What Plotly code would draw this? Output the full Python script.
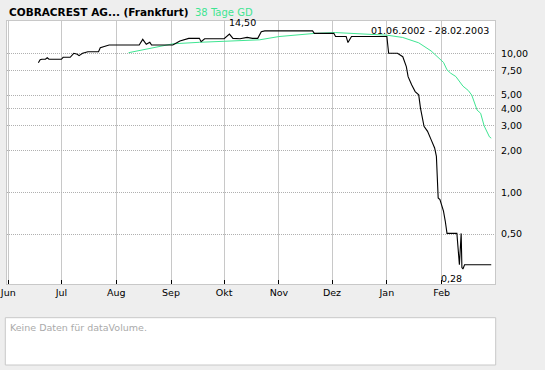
import math
import plotly.graph_objects as go

# ---- data -------------------------------------------------------------
price_dates = [
    "2002-06-18", "2002-06-19", "2002-06-20", "2002-06-22", "2002-06-23", "2002-06-24",
    "2002-07-01", "2002-07-02", "2002-07-06", "2002-07-08", "2002-07-10", "2002-07-11",
    "2002-07-13", "2002-07-16", "2002-07-22", "2002-07-23", "2002-07-28", "2002-08-14",
    "2002-08-16", "2002-08-18", "2002-08-20", "2002-08-21", "2002-09-02", "2002-09-06",
    "2002-09-11", "2002-09-17", "2002-09-18", "2002-09-20", "2002-10-01", "2002-10-04",
    "2002-10-06", "2002-10-10", "2002-10-14", "2002-10-17", "2002-10-20", "2002-10-22",
    "2002-10-24", "2002-11-20", "2002-11-21", "2002-12-02", "2002-12-03", "2002-12-09",
    "2002-12-10", "2002-12-12", "2003-01-01", "2003-01-02", "2003-01-07", "2003-01-10",
    "2003-01-12", "2003-01-13", "2003-01-15", "2003-01-17", "2003-01-19", "2003-01-20",
    "2003-01-22", "2003-01-24", "2003-01-26", "2003-01-28", "2003-01-29", "2003-01-30",
    "2003-01-31", "2003-02-02", "2003-02-03", "2003-02-04", "2003-02-09 14:00",
    "2003-02-10 17:00", "2003-02-11 00:00", "2003-02-12 00:00", "2003-02-12 10:00",
    "2003-02-13 00:00", "2003-02-13 22:00", "2003-03-01",
]
price_values = [
    8.56, 9.00, 9.06, 9.06, 9.29, 9.06,
    9.06, 9.36, 9.36, 10.00, 9.83, 9.61,
    10.00, 10.27, 10.27, 10.97, 11.47, 11.47,
    12.60, 11.60, 11.99, 11.47, 11.47, 12.25,
    12.81, 12.81, 12.11, 12.72, 12.72, 13.76,
    12.81, 12.72, 13.02, 12.81, 12.81, 14.29,
    14.50, 14.50, 13.92, 13.92, 13.20, 13.20,
    11.95, 13.20, 13.20, 10.00, 10.00, 9.45,
    8.01, 6.79, 5.93, 5.30, 5.02, 4.03,
    2.98, 2.74, 2.39, 2.08, 1.81, 0.91,
    0.886, 0.73, 0.62, 0.505, 0.505,
    0.32, 0.30, 0.505, 0.287,
    0.28, 0.30, 0.30,
]

gd_dates = [
    "2002-08-08", "2002-09-02", "2002-09-17", "2002-10-21", "2002-11-01", "2002-11-21",
    "2002-12-03", "2002-12-22", "2003-01-01", "2003-01-10", "2003-01-19", "2003-01-26",
    "2003-02-02", "2003-02-04", "2003-02-06", "2003-02-09", "2003-02-13", "2003-02-16",
    "2003-02-18", "2003-02-21", "2003-02-23", "2003-02-25", "2003-02-28", "2003-03-01",
]
gd_values = [
    10.10, 11.70, 12.00, 12.50, 13.20, 13.90,
    14.10, 13.80, 13.50, 13.00, 11.90, 10.40,
    8.60, 7.60, 7.20, 6.80, 5.80, 5.40,
    5.00, 3.90, 3.70, 3.00, 2.50, 2.45,
]

month_ticks = ["2002-06-01", "2002-07-01", "2002-08-01", "2002-09-01", "2002-10-01",
               "2002-11-01", "2002-12-01", "2003-01-01", "2003-02-01"]
month_labels = ["Jun", "Jul", "Aug", "Sep", "Okt", "Nov", "Dez", "Jan", "Feb"]

y_ticks = [10, 7.5, 5, 4, 3, 2, 1, 0.5]
y_labels = ["10,00", "7,50", "5,00", "4,00", "3,00", "2,00", "1,00", "0,50"]

title_text = "COBRACREST AG... (Frankfurt)"
gd_text = "38 Tage GD"
period_text = "01.06.2002 - 28.02.2003"
volume_text = "Keine Daten für dataVolume."

# ---- style -------------------------------------------------------------
GREEN = "#3fe592"
FONT = "DejaVu Sans"

fig = go.Figure()
fig.add_trace(go.Scatter(x=gd_dates, y=gd_values, mode="lines",
                         line=dict(color=GREEN, width=1), hoverinfo="skip"))
fig.add_trace(go.Scatter(x=price_dates, y=price_values, mode="lines",
                         line=dict(color="black", width=1.1)))

W, H = 545, 370
L, R, T, B = 7, 50, 21, 86
pw, ph = W - L - R, H - T - B


def px(x):
    return (x - L) / pw


def py(y):
    return (H - B - y) / ph


fig.update_layout(
    width=W, height=H,
    margin=dict(l=L, r=R, t=T, b=B, pad=0, autoexpand=False),
    paper_bgcolor="#eeeeee", plot_bgcolor="white",
    showlegend=False,
    font=dict(family=FONT, size=9.5, color="black"),
)
fig.update_xaxes(
    type="date", range=["2002-05-31 06:30", "2003-03-03 03:00"],
    tickvals=month_ticks, ticktext=month_labels,
    showgrid=True, gridcolor="#c8c8c8", gridwidth=1,
    ticks="inside", ticklen=4, tickcolor="black", tickwidth=1,
    showline=True, linecolor="#c8c8c8", mirror=True, zeroline=False,
    tickfont=dict(size=9.5), ticklabeloverflow="allow", automargin=False,
)
fig.update_yaxes(
    type="log", range=[-0.661, 1.2325], side="right",
    tickvals=y_ticks, ticktext=y_labels,
    showgrid=True, gridcolor="#b0b0b0", griddash="1px,1px", gridwidth=1,
    ticks="", showline=True, linecolor="#c8c8c8", mirror=True, zeroline=False,
    ticklabelstandoff=3, automargin=False,
)

# max / min labels anchored to the data (log axis -> log10 coordinates)
imax = max(range(len(price_values)), key=lambda i: price_values[i])
imin = min(range(len(price_values)), key=lambda i: price_values[i])
fmt = lambda v: f"{v:.2f}".replace(".", ",")

fig.add_annotation(x=price_dates[imax], y=math.log10(price_values[imax]),
                   text=fmt(price_values[imax]), showarrow=False,
                   xanchor="right", yanchor="middle", xshift=-7, yshift=8,
                   font=dict(size=9.5))
fig.add_annotation(x=price_dates[imin], y=math.log10(price_values[imin]),
                   text=fmt(price_values[imin]), showarrow=False,
                   xanchor="right", yanchor="top", xshift=1, yshift=-2,
                   font=dict(size=9.5))

# header texts
fig.add_annotation(x=px(7), y=py(12.5), xref="paper", yref="paper",
                   text=f"<b>{title_text}</b>", showarrow=False,
                   xanchor="left", yanchor="middle", font=dict(size=10.5, color="black"))
fig.add_annotation(x=px(193), y=py(12.5), xref="paper", yref="paper",
                   text=gd_text, showarrow=False,
                   xanchor="left", yanchor="middle", font=dict(size=10, color=GREEN))
fig.add_annotation(x=px(491), y=py(30.5), xref="paper", yref="paper",
                   text=period_text, showarrow=False,
                   xanchor="right", yanchor="middle", font=dict(size=9.5, color="black"))

# empty volume panel
fig.add_shape(type="rect", xref="paper", yref="paper",
              x0=px(5.3), x1=px(495.7), y0=py(365), y1=py(317.7),
              fillcolor="white", line=dict(color="#c8c8c8", width=1), layer="below")
fig.add_annotation(x=px(8), y=py(327), xref="paper", yref="paper",
                   text=volume_text, showarrow=False,
                   xanchor="left", yanchor="middle", font=dict(size=9.5, color="#aaaaaa"))

fig.write_html("out.html")
